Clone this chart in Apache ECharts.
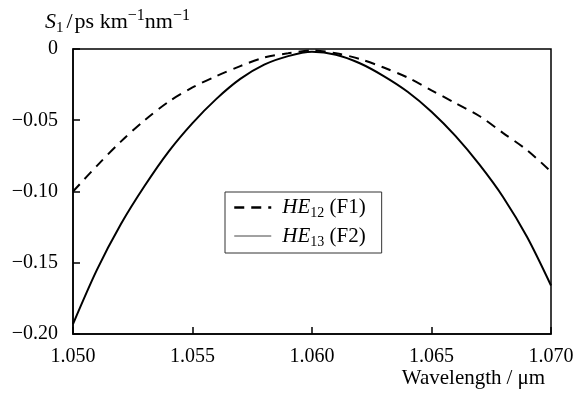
<!DOCTYPE html>
<html>
<head>
<meta charset="utf-8">
<script src="https://cdn.jsdelivr.net/npm/echarts@6/dist/echarts.min.js"></script>
<style>
  html, body { margin: 0; padding: 0; background: #fff; }
  #chart { width: 578px; height: 401px; }
</style>
</head>
<body>
<div id="chart"></div>
<script>
// wavelength in um
var wavelength = [1.050, 1.051, 1.052, 1.053, 1.054, 1.055, 1.056, 1.057, 1.058, 1.059, 1.060,
                  1.061, 1.062, 1.063, 1.064, 1.065, 1.066, 1.067, 1.068, 1.069, 1.070];
// S1 in ps/km/nm
var he12 = [-0.100, -0.082, -0.065, -0.050, -0.037, -0.027, -0.019, -0.012, -0.006, -0.003, -0.001,
            -0.003, -0.007, -0.013, -0.020, -0.029, -0.038, -0.047, -0.059, -0.071, -0.086];
var he13 = [-0.193, -0.155, -0.123, -0.096, -0.072, -0.052, -0.035, -0.021, -0.011, -0.005, -0.002,
            -0.004, -0.010, -0.019, -0.030, -0.044, -0.061, -0.081, -0.104, -0.132, -0.166];
var seriesNames = ['HE12 (F1)', 'HE13 (F2)'];
var legendLabels = {
    'HE12 (F1)': '{i|HE}{sub|12}{t| (F1)}',
    'HE13 (F2)': '{i|HE}{sub|13}{t| (F2)}'
};

var FONT = "'Liberation Serif', 'DejaVu Serif', serif";

function pairs(xs, ys){
    var out = [];
    for(var i = 0; i < xs.length; i++){
        out.push([xs[i], ys[i]]);
    }
    return out;
}

var myChart = echarts.init(document.getElementById('chart'));

var option = {
    animation: false,
    backgroundColor: '#fff',
    grid: {
        left: 73, right: 27, top: 49, bottom: 67,
        show: true,
        borderColor: '#000',
        borderWidth: 1.5
    },
    xAxis: {
        type: 'value',
        min: 1.050, max: 1.070, interval: 0.005,
        axisLine: { onZero: false, lineStyle: { color: '#000', width: 1.5 } },
        axisTick: { inside: true, length: 7, lineStyle: { color: '#000', width: 1.5 } },
        axisLabel: {
            color: '#000', fontFamily: FONT, fontSize: 20, margin: 13,
            formatter: function(v){ return v.toFixed(3); }
        },
        splitLine: { show: false }
    },
    yAxis: {
        type: 'value',
        min: -0.20, max: 0, interval: 0.05,
        axisLine: { onZero: false, lineStyle: { color: '#000', width: 1.5 } },
        axisTick: { inside: true, length: 7, lineStyle: { color: '#000', width: 1.5 } },
        axisLabel: {
            color: '#000', fontFamily: FONT, fontSize: 20, margin: 15,
            formatter: function(v){
                if(Math.abs(v) < 1e-9) return '0';
                return '\u2212' + Math.abs(v).toFixed(2);
            }
        },
        splitLine: { show: false }
    },
    legend: {
        orient: 'vertical',
        left: 225, top: 192,
        padding: [5, 16, 4, 8],
        itemGap: 5,
        itemWidth: 37,
        itemHeight: 14,
        backgroundColor: '#fff',
        borderColor: '#333',
        borderWidth: 1,
        itemStyle: { opacity: 0 },
        data: [
            { name: seriesNames[0], itemStyle: { opacity: 0 }, lineStyle: { color: '#000', width: 2.5, type: [10, 7] } },
            { name: seriesNames[1], itemStyle: { opacity: 0 }, lineStyle: { color: '#444', width: 1 } }
        ],
        formatter: function(name){ return legendLabels[name]; },
        textStyle: {
            color: '#000',
            fontFamily: FONT,
            fontSize: 21,
            padding: [0, 0, 0, 6],
            rich: {
                i: { fontFamily: FONT, fontSize: 21, fontStyle: 'italic', color: '#000', lineHeight: 26 },
                sub: { fontFamily: FONT, fontSize: 14, color: '#000', verticalAlign: 'bottom', lineHeight: 26 },
                t: { fontFamily: FONT, fontSize: 21, color: '#000', lineHeight: 26 }
            }
        }
    },
    graphic: [
        {
            type: 'text',
            left: 45, top: 8,
            style: {
                text: '{i|S}{sub|1}{s|/}{t|ps km}{sup|\u22121}{t|nm}{sup|\u22121}',
                font: '22px ' + FONT,
                fill: '#000',
                rich: {
                    i: { fontFamily: FONT, fontSize: 22, fontStyle: 'italic', fill: '#000', lineHeight: 28 },
                    sub: { fontFamily: FONT, fontSize: 15, fill: '#000', verticalAlign: 'bottom', lineHeight: 28 },
                    sup: { fontFamily: FONT, fontSize: 16, fill: '#000', verticalAlign: 'top', lineHeight: 28 },
                    s: { fontFamily: FONT, fontSize: 22, fill: '#000', lineHeight: 28, padding: [0, 2, 0, 3] },
                    t: { fontFamily: FONT, fontSize: 22, fill: '#000', lineHeight: 28 }
                }
            }
        },
        {
            type: 'text',
            right: 33, top: 368,
            style: {
                text: '{t|Wavelength}{s|/}{t|\u03bcm}',
                font: '21px ' + FONT,
                fill: '#000',
                rich: {
                    t: { fontFamily: FONT, fontSize: 21, fill: '#000' },
                    s: { fontFamily: FONT, fontSize: 21, fill: '#000', padding: [0, 5, 0, 5] }
                }
            }
        }
    ],
    series: [
        {
            name: seriesNames[0],
            type: 'line',
            data: pairs(wavelength, he12),
            smooth: 0.3,
            symbol: 'none',
            lineStyle: { color: '#000', width: 2, type: [10, 7] },
            z: 3
        },
        {
            name: seriesNames[1],
            type: 'line',
            data: pairs(wavelength, he13),
            smooth: 0.3,
            symbol: 'none',
            lineStyle: { color: '#000', width: 2 },
            z: 3
        }
    ]
};

myChart.setOption(option);
</script>
</body>
</html>
